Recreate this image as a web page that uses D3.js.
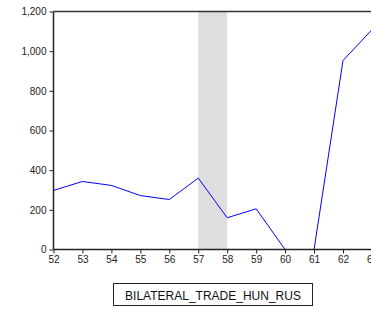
<!DOCTYPE html>
<html>
<head>
<meta charset="utf-8">
<script src="https://cdn.jsdelivr.net/npm/d3@7"></script>
<style>
  body { margin: 0; background: #fff; }
  svg { display: block; font-family: Arial, "Liberation Sans", sans-serif; }
</style>
</head>
<body>
<div id="chart"></div>
<script>
const years = [52, 53, 54, 55, 56, 57, 58, 59, 60, 61, 62, 63];
const trade = [298, 343, 323, 272, 252, 360, 160, 205, 0, 0, 953, 1108];
const yTicks = [0, 200, 400, 600, 800, 1000, 1200];
const shaded = [57, 58];
const seriesName = "BILATERAL_TRADE_HUN_RUS";

const W = 371, H = 309;
const plotLeft = 53.5, plotTop = 11.5, plotBottom = 249.5;

const svg = d3.select("#chart")
  .append("svg")
    .attr("width", W)
    .attr("height", H);

const x = d3.scaleLinear()
  .domain([52, 63])
  .range([plotLeft, plotLeft + 11 * 28.95]);

const y = d3.scaleLinear()
  .domain([0, 1200])
  .range([plotBottom, plotTop]);

// shaded band
svg.append("rect")
  .attr("x", x(shaded[0]))
  .attr("y", plotTop)
  .attr("width", x(shaded[1]) - x(shaded[0]))
  .attr("height", plotBottom - plotTop)
  .attr("fill", "#dedede");

// series line
const line = d3.line()
  .x((d, i) => x(years[i]))
  .y(d => y(d));

svg.append("path")
  .datum(trade)
  .attr("d", line)
  .attr("fill", "none")
  .attr("stroke", "#0000ff")
  .attr("stroke-width", 1);

// top frame line
svg.append("line")
  .attr("x1", plotLeft).attr("x2", W)
  .attr("y1", plotTop).attr("y2", plotTop)
  .attr("stroke", "#333")
  .attr("stroke-width", 1.5);

// axes
const yAxis = svg.append("g")
  .attr("transform", `translate(${plotLeft},0)`)
  .call(d3.axisLeft(y).tickValues(yTicks).tickSize(4).tickPadding(3)
    .tickFormat(d3.format(",")));

const xAxis = svg.append("g")
  .attr("transform", `translate(0,${plotBottom})`)
  .call(d3.axisBottom(x).tickValues(years).tickSize(4).tickPadding(2)
    .tickFormat(d => d));

[yAxis, xAxis].forEach(g => {
  g.select(".domain").attr("stroke", "#222").attr("stroke-width", 1.5);
  g.selectAll(".tick line").attr("stroke", "#222");
  g.selectAll("text")
    .attr("fill", "#222")
    .style("font-size", "10px")
    .style("font-family", "Arial, 'Liberation Sans', sans-serif");
});
yAxis.select(".domain").attr("d", `M0,${plotBottom}V${plotTop}`);
xAxis.select(".domain").attr("d", `M${plotLeft},0H${W}`);

// legend
const legend = svg.append("g");
legend.append("rect")
  .attr("x", 113.5)
  .attr("y", 283.5)
  .attr("width", 199)
  .attr("height", 22)
  .attr("fill", "#fff")
  .attr("stroke", "#222")
  .attr("stroke-width", 1);
legend.append("text")
  .attr("x", 213)
  .attr("y", 299.5)
  .attr("text-anchor", "middle")
  .style("font-size", "12px")
  .attr("fill", "#111")
  .text(seriesName);
</script>
</body>
</html>
